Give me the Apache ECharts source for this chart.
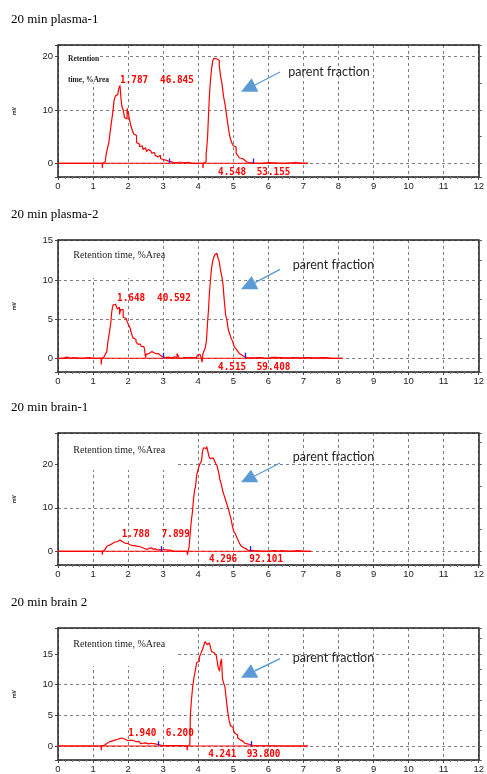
<!DOCTYPE html>
<html>
<head>
<meta charset="utf-8">
<script src="https://cdn.jsdelivr.net/npm/echarts@6/dist/echarts.min.js"></script>
<style>
  html, body { margin: 0; padding: 0; background: #fff; }
  #chart { width: 487px; height: 774px; }
</style>
</head>
<body>
<div id="chart"></div>
<script>
// ---------------- data ----------------
const panelTitles = ['20 min plasma-1', '20 min plasma-2', '20 min brain-1', '20 min brain 2'];
const xTickLabels = [0, 1, 2, 3, 4, 5, 6, 7, 8, 9, 10, 11, 12];
const yAxisName = 'mV';
const annotationText = 'parent fraction';
const headerText = 'Retention time, %Area';

// chromatogram traces: [retention time (min), signal]
const plasma1Trace = [
  [0,0],[1.26,0],[1.27,-0.9],[1.28,0],[1.35,0.3],[1.39,1.6],[1.43,2.8],[1.47,3.9],[1.51,6.0],[1.55,8.0],
  [1.58,9.6],[1.62,11.8],[1.65,12.6],[1.69,12.5],[1.72,12.9],[1.75,14.1],[1.787,14.6],[1.81,12.0],[1.84,10.6],
  [1.88,10.0],[1.91,8.6],[1.95,8.3],[1.99,10.3],[2.02,9.4],[2.06,8.2],[2.10,7.0],[2.14,6.2],[2.18,5.5],
  [2.22,5.2],[2.26,3.9],[2.30,3.6],[2.35,3.1],[2.40,3.3],[2.45,2.6],[2.50,2.9],[2.55,2.2],[2.60,2.6],
  [2.65,2.3],[2.70,1.9],[2.75,2.0],[2.80,1.5],[2.85,1.2],[2.90,1.5],[2.95,0.9],[3.00,0.7],[3.05,0.6],
  [3.10,0.5],[3.15,0.4],[3.22,0.3],[3.30,0.15],[3.45,0.2],[3.60,0.15],[3.73,0.2],[3.80,0],[4.13,0],
  [4.14,-0.9],[4.15,0],[4.20,0.3],[4.25,1.6],[4.28,4.7],[4.31,9.4],[4.34,13.4],[4.37,16.0],[4.40,18.0],
  [4.43,19.2],[4.46,19.7],[4.50,19.6],[4.548,19.7],[4.58,19.3],[4.62,18.3],[4.66,16.2],[4.70,14.8],
  [4.74,12.6],[4.78,11.2],[4.82,9.4],[4.86,7.5],[4.90,5.8],[4.94,4.5],[4.98,3.8],[5.02,3.3],[5.06,3.1],
  [5.10,1.9],[5.15,1.5],[5.20,1.0],[5.26,0.9],[5.32,0.6],[5.38,0.3],[5.45,0.1],[5.55,0.1],[5.62,0],
  [6.00,0.15],[6.05,0],[6.80,0.15],[6.85,0],[7.13,0]
];
const plasma2Trace = [
  [0,0],[0.25,0.15],[0.30,0],[0.45,0.1],[0.50,0],[0.85,0.1],[0.90,0],[1.23,0],[1.24,-0.8],[1.25,0],
  [1.32,0.2],[1.37,0.5],[1.41,0.85],[1.45,2.3],[1.49,3.4],[1.52,4.5],[1.55,6.0],[1.59,6.8],[1.63,6.9],
  [1.648,6.8],[1.68,6.9],[1.71,6.3],[1.74,6.5],[1.77,5.6],[1.80,6.2],[1.84,6.2],[1.88,5.2],[1.92,5.1],
  [1.96,4.9],[2.00,4.6],[2.04,4.2],[2.08,3.8],[2.12,3.1],[2.16,2.6],[2.20,2.4],[2.25,2.1],[2.30,1.8],
  [2.35,1.8],[2.40,1.5],[2.45,1.5],[2.49,1.1],[2.50,0.1],[2.53,0.5],[2.57,0.6],[2.62,0.8],[2.68,0.85],
  [2.74,0.7],[2.80,0.6],[2.86,0.6],[2.92,0.4],[2.98,0.2],[3.02,0.1],[3.10,0.15],[3.20,0.05],[3.30,0.2],
  [3.35,0],[3.44,0.6],[3.48,0],[3.60,0.1],[3.80,0.1],[3.95,0.1],[4.00,0.4],[4.05,0.5],[4.10,0.2],
  [4.12,-0.5],[4.14,0.5],[4.18,0.9],[4.22,1.3],[4.25,2.3],[4.28,4.5],[4.30,6.0],[4.33,8.0],[4.36,9.8],
  [4.39,11.3],[4.42,12.2],[4.45,12.8],[4.49,13.2],[4.515,13.4],[4.55,13.3],[4.58,12.8],[4.62,12.3],
  [4.65,11.2],[4.69,10.5],[4.72,9.5],[4.76,7.5],[4.80,5.6],[4.84,4.8],[4.88,3.6],[4.92,3.1],[4.96,2.5],
  [5.00,2.2],[5.05,1.5],[5.10,1.2],[5.15,0.9],[5.20,0.6],[5.26,0.35],[5.32,0.2],[5.40,0.1],[5.50,0.05],
  [5.70,0.1],[5.90,0],[6.10,0.12],[6.30,0.1],[6.50,0.05],[6.70,0.1],[6.90,0.05],[7.10,0.1],[7.30,0.05],
  [7.50,0.08],[7.80,0],[8.12,0]
];
const brain1Trace = [
  [0,0],[1.26,0],[1.27,-0.8],[1.28,0],[1.32,0.4],[1.37,0.8],[1.41,1.15],[1.46,1.4],[1.51,1.7],[1.56,1.9],
  [1.61,2.1],[1.66,2.2],[1.71,2.4],[1.75,2.6],[1.788,2.7],[1.82,2.2],[1.86,2.0],[1.91,1.9],[1.96,1.8],
  [2.01,1.5],[2.06,1.5],[2.12,1.3],[2.18,1.3],[2.24,1.2],[2.30,1.15],[2.36,1.0],[2.42,0.8],[2.48,0.6],
  [2.54,0.4],[2.60,0.7],[2.66,0.8],[2.72,0.5],[2.78,0.55],[2.84,0.3],[2.90,0.4],[2.96,0.3],[3.02,0.4],
  [3.08,0.35],[3.14,0.25],[3.20,0.3],[3.26,0.1],[3.32,0],[3.68,0],[3.70,-0.8],[3.72,0],[3.76,1.1],
  [3.79,4.5],[3.82,7.2],[3.85,9.0],[3.88,12.0],[3.91,14.0],[3.94,15.0],[3.97,17.5],[4.00,18.5],[4.04,19.5],
  [4.08,20.3],[4.11,20.8],[4.14,23.2],[4.18,23.8],[4.22,23.6],[4.26,24.1],[4.296,24.2],[4.32,21.8],
  [4.36,21.3],[4.40,21.5],[4.44,21.3],[4.48,20.9],[4.52,20.2],[4.56,19.6],[4.60,18.2],[4.64,16.4],
  [4.68,15.4],[4.72,13.8],[4.76,12.8],[4.80,11.8],[4.84,10.8],[4.88,9.8],[4.92,8.5],[4.96,7.3],[5.00,5.5],
  [5.04,4.5],[5.08,4.0],[5.12,3.2],[5.16,2.5],[5.20,1.8],[5.25,1.2],[5.30,0.8],[5.35,0.5],[5.40,0.3],
  [5.45,0.15],[5.50,0.2],[5.55,0.5],[5.60,0.15],[5.65,0],[6.20,0.15],[6.25,0],[6.35,0.15],[6.40,0],
  [6.85,0.15],[6.90,0],[7.22,0]
];
const brain2Trace = [
  [0,0],[1.23,0],[1.24,-0.7],[1.25,0],[1.32,0.1],[1.37,0.3],[1.41,0.4],[1.46,0.65],[1.51,0.8],[1.56,0.9],
  [1.61,0.95],[1.66,1.05],[1.71,1.1],[1.76,1.2],[1.80,1.3],[1.84,1.35],[1.88,1.1],[1.94,1.0],[1.98,0.85],
  [2.03,0.8],[2.08,0.95],[2.13,0.9],[2.18,0.6],[2.23,0.7],[2.28,0.75],[2.33,0.6],[2.38,0.4],[2.43,0.45],
  [2.48,0.5],[2.53,0.4],[2.58,0.35],[2.63,0.45],[2.68,0.5],[2.73,0.4],[2.78,0.3],[2.83,0.25],[2.90,0.1],
  [3.00,0.05],[3.40,0.05],[3.68,0],[3.69,-0.7],[3.70,0],[3.76,0.2],[3.79,5.0],[3.82,7.4],[3.86,9.6],
  [3.90,11.2],[3.94,12.4],[3.97,13.6],[4.01,13.8],[4.05,14.5],[4.09,15.0],[4.13,15.6],[4.17,16.2],
  [4.21,17.0],[4.241,17.1],[4.27,16.5],[4.30,16.8],[4.33,17.0],[4.36,16.2],[4.39,15.4],[4.43,15.2],
  [4.47,14.9],[4.51,14.8],[4.55,14.2],[4.59,12.8],[4.62,12.2],[4.65,13.6],[4.68,14.2],[4.70,11.0],
  [4.74,10.3],[4.78,9.7],[4.82,7.6],[4.86,5.6],[4.90,4.2],[4.94,3.3],[4.98,3.0],[5.02,2.6],[5.06,2.1],
  [5.10,1.8],[5.15,1.3],[5.20,1.0],[5.25,0.8],[5.30,0.6],[5.35,0.45],[5.40,0.35],[5.45,0.25],[5.50,0.12],
  [5.60,0.08],[5.70,0],[7.13,0]
];
const traces = [plasma1Trace, plasma2Trace, brain1Trace, brain2Trace];

// end of each recorded run (min)
const runEnd = [7.13, 8.12, 7.22, 7.13];
// integration end markers (min)
const peakEndTimes = [[3.18, 5.58], [2.99, 5.34], [2.94, 5.49], [2.86, 5.52]];
// integrated peak results
const retentionTimes = [['1.787', '4.548'], ['1.648', '4.515'], ['1.788', '4.296'], ['1.940', '4.241']];
const areaPercents = [['46.845', '53.155'], ['40.592', '59.408'], ['7.899', '92.101'], ['6.200', '93.800']];

// ---------------- layout ----------------
const L = {
  gridLeft: 58, gridWidth: 423, gridHeight: 132,
  panelTop: [45, 240, 433, 628],
  yRange: [[-2.57, 22.19], [-1.75, 15.09], [-3.15, 27.2], [-2.28, 19.22]],
  ySplit: [2, 3, 3, 4],
  yStep: [10, 5, 10, 5],
  endMarkHeight: [0.9, 0.7, 1.2, 0.8],
  titleY: [20, 214.3, 407.3, 602.7],
  headerDy: [15, 15, 17, 16.3],
  headerBox: [[59, 1, 41, 37], [59, 1, 101, 37], [59, 1, 119, 36], [59, 1, 119, 37]],
  upperLabel: [[120, 35], [117, 58], [121.7, 101], [128.3, 104.7]],
  upperGap: [40, 40, 40, 37.4],
  lowerLabel: [[218, 127], [218, 126.7], [209, 126.3], [208.3, 126.3]],
  lowerGap: [38.7, 38.7, 40.3, 38.4],
  arrowStart: [[280, 27], [280, 29.3], [280, 30], [280, 30.7]],
  arrowHead: [
    [[241, 46.7], [258.3, 46.7], [251.7, 33.3]],
    [[241, 49.3], [258.3, 49.3], [251.7, 36]],
    [[241, 49.3], [258.3, 49.3], [251, 36.7]],
    [[241, 49.7], [258.3, 49.7], [251, 36.3]]
  ],
  noteX: [288.3, 292.7, 292.7, 292.7],
  noteDy: [27, 25, 23.7, 29.7]
};

const RED = '#ff0000';
const BLUE_MARK = '#1f1fff';
const ARROW = '#5b9bd5';
const FRAME = '#222';
const GRIDLINE = '#808080';

const grids = [], xAxes = [], yAxes = [], series = [], graphics = [];

for (let i = 0; i < 4; i++) {
  const top = L.panelTop[i];
  const [yMin, yMax] = L.yRange[i];
  const step = L.yStep[i];
  grids.push({ left: L.gridLeft, top: top, width: L.gridWidth, height: L.gridHeight });

  // bottom time axis
  xAxes.push({
    type: 'value', gridIndex: i, position: 'bottom',
    min: xTickLabels[0], max: xTickLabels[xTickLabels.length - 1], interval: 1,
    axisLine: { show: true, onZero: false, lineStyle: { color: FRAME, width: 1.5 } },
    axisTick: { show: true, length: 3, lineStyle: { color: '#444' } },
    minorTick: { show: true, splitNumber: 5, length: 2, lineStyle: { color: '#777' } },
    axisLabel: { fontSize: 9.5, color: '#222', margin: 4, fontFamily: 'Liberation Sans' },
    splitLine: { show: true, lineStyle: { color: GRIDLINE, type: [3, 3], width: 1 } }
  });
  // top frame edge
  xAxes.push({
    type: 'value', gridIndex: i, position: 'top', min: 0, max: 12,
    axisLine: { show: true, onZero: false, lineStyle: { color: FRAME, width: 1.5 } },
    axisTick: { show: false }, axisLabel: { show: false }, splitLine: { show: false }
  });
  // left signal axis
  yAxes.push({
    type: 'value', gridIndex: i, position: 'left', min: yMin, max: yMax, splitNumber: L.ySplit[i],
    name: yAxisName, nameLocation: 'middle', nameGap: 41, nameRotate: 90,
    nameTextStyle: { fontSize: 5, fontWeight: 'bold', color: '#222' },
    axisLine: { show: true, onZero: false, lineStyle: { color: FRAME, width: 1.5 } },
    axisTick: { show: true, length: 3, lineStyle: { color: '#444' } },
    axisLabel: {
      fontSize: 9.5, color: '#222', margin: 5, fontFamily: 'Liberation Sans',
      showMinLabel: true, showMaxLabel: true,
      formatter: v => (Math.abs(v / step - Math.round(v / step)) < 1e-6 ? String(Math.round(v)) : '')
    },
    splitLine: { show: true, lineStyle: { color: GRIDLINE, type: [3, 3], width: 1 } }
  });
  // right frame edge with ticks
  yAxes.push({
    type: 'value', gridIndex: i, position: 'right', min: yMin, max: yMax, splitNumber: L.ySplit[i],
    axisLine: { show: true, onZero: false, lineStyle: { color: FRAME, width: 1.5 } },
    axisTick: { show: true, length: 3, lineStyle: { color: '#555' } },
    minorTick: { show: true, splitNumber: 2, length: 3, lineStyle: { color: '#555' } },
    axisLabel: { show: false }, splitLine: { show: false }
  });

  const markData = peakEndTimes[i].map(t => [
    { coord: [t, 0] }, { coord: [t, L.endMarkHeight[i]] }
  ]);

  // integration baseline
  series.push({
    type: 'line', xAxisIndex: i * 2, yAxisIndex: i * 2,
    data: [[0, 0], [runEnd[i], 0]],
    showSymbol: false, silent: true, animation: false, z: 2,
    lineStyle: { color: RED, width: 1.1 }
  });
  // detector trace
  series.push({
    type: 'line', xAxisIndex: i * 2, yAxisIndex: i * 2,
    data: traces[i], step: 'middle',
    showSymbol: false, silent: true, animation: false, z: 3,
    lineStyle: { color: RED, width: 1.2 },
    markLine: {
      silent: true, animation: false, symbol: ['none', 'none'],
      label: { show: false },
      lineStyle: { color: BLUE_MARK, width: 1.3, type: 'solid' },
      data: markData
    }
  });

  // panel title
  graphics.push({
    type: 'text', x: 11, y: L.titleY[i], z: 20,
    style: { text: panelTitles[i], font: '13px "Liberation Serif"', fill: '#000', verticalAlign: 'middle' }
  });

  // white header box with results caption
  const hb = L.headerBox[i];
  graphics.push({
    type: 'rect', z: 1, silent: true,
    shape: { x: hb[0], y: top + hb[1], width: hb[2], height: hb[3] },
    style: { fill: '#fff' }
  });
  if (i === 0) {
    const words = headerText.split(' ');
    graphics.push({
      type: 'text', x: 68, y: top + 14, z: 20,
      style: { text: words[0], font: 'bold 7.5px "Liberation Serif"', fill: '#222', verticalAlign: 'middle' }
    });
    graphics.push({
      type: 'text', x: 68, y: top + 35, z: 20,
      style: { text: words.slice(1).join(' '), font: 'bold 7.5px "Liberation Serif"', fill: '#222', verticalAlign: 'middle' }
    });
  } else {
    graphics.push({
      type: 'text', x: 73.3, y: top + L.headerDy[i], z: 20,
      style: { text: headerText, font: '10px "Liberation Serif"', fill: '#222', verticalAlign: 'middle' }
    });
  }

  // peak results
  const labelFont = 'bold 11px "DejaVu Sans Mono"';
  const ul = L.upperLabel[i], ll = L.lowerLabel[i];
  [[retentionTimes[i][0], ul[0], ul[1]], [areaPercents[i][0], ul[0] + L.upperGap[i], ul[1]],
   [retentionTimes[i][1], ll[0], ll[1]], [areaPercents[i][1], ll[0] + L.lowerGap[i], ll[1]]]
    .forEach(([txt, x, dy]) => {
      graphics.push({
        type: 'text', x: x, y: top + dy, z: 20, scaleX: 0.85,
        style: { text: txt, font: labelFont, fill: RED, verticalAlign: 'middle' }
      });
    });

  // arrow pointing at the parent peak
  const head = L.arrowHead[i];
  const tipBase = [(head[1][0] + head[2][0]) / 2, top + (head[1][1] + head[2][1]) / 2];
  graphics.push({
    type: 'line', z: 20, silent: true,
    shape: { x1: L.arrowStart[i][0], y1: top + L.arrowStart[i][1], x2: tipBase[0], y2: tipBase[1] },
    style: { stroke: ARROW, lineWidth: 1.4 }
  });
  graphics.push({
    type: 'polygon', z: 20, silent: true,
    shape: { points: head.map(p => [p[0], top + p[1]]) },
    style: { fill: ARROW }
  });
  graphics.push({
    type: 'text', x: L.noteX[i], y: top + L.noteDy[i], z: 20,
    style: { text: annotationText, font: '12.5px Lato', fill: '#262626', verticalAlign: 'middle' }
  });
}

const chart = echarts.init(document.getElementById('chart'), null, { renderer: 'canvas' });
chart.setOption({
  animation: false,
  backgroundColor: '#fff',
  grid: grids,
  xAxis: xAxes,
  yAxis: yAxes,
  series: series,
  graphic: { elements: graphics }
});
</script>
</body>
</html>
